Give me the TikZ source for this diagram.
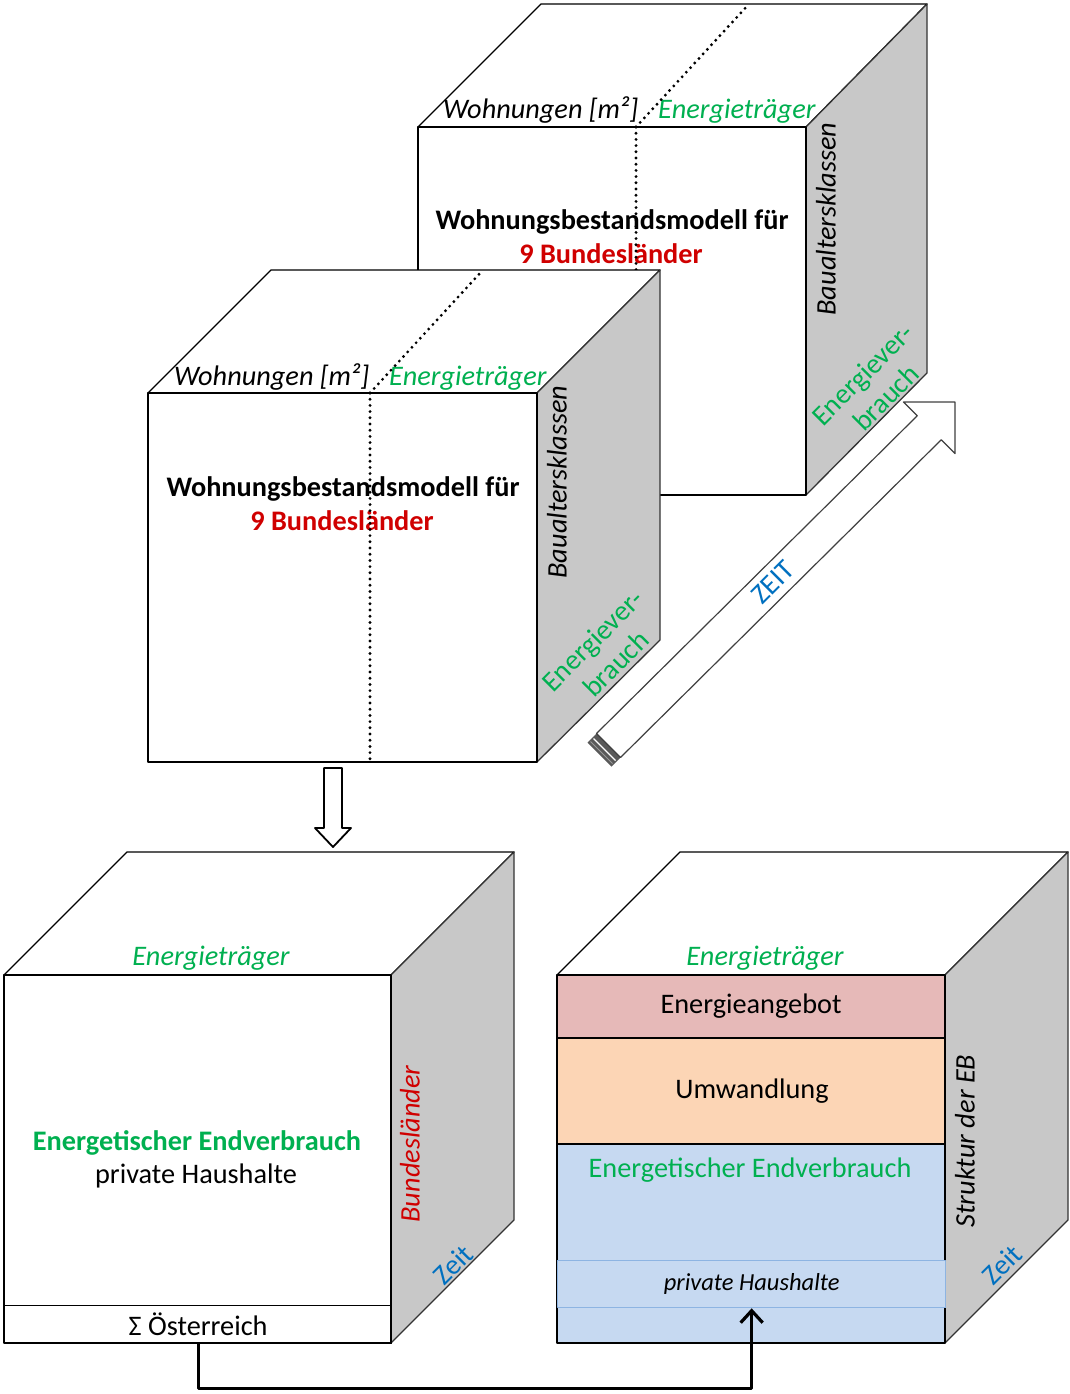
\documentclass[tikz,border=0pt]{standalone}
\usepackage{fontspec}
\setmainfont{Carlito}
\usetikzlibrary{arrows.meta}
\definecolor{egreen}{HTML}{00B050}
\definecolor{ered}{HTML}{D00000}
\definecolor{eblue}{HTML}{0070C0}
\definecolor{sidegray}{HTML}{C8C8C8}
\definecolor{pinkc}{HTML}{E6B9B8}
\definecolor{peachc}{HTML}{FCD5B5}
\definecolor{bluec}{HTML}{C6D9F1}
\definecolor{bandline}{HTML}{8DB4E2}
\newcommand\myfs{\fontsize{28.3}{33}\selectfont}
\begin{document}
\begin{tikzpicture}[x=1pt,y=-1pt,line join=round,
  face/.style={draw=black,line width=1.3pt,fill=white},
  sideface/.style={draw=black!80,line width=1.3pt,fill=sidegray},
  txt/.style={font=\myfs,inner sep=0pt},
  dotline/.style={line width=3.2pt,line cap=round,dash pattern=on 0pt off 6.2pt},
  conn/.style={line width=3.2pt,-{Straight Barb[length=12pt,width=22pt]}},
  hollow/.style={draw=black,line width=1.8pt,fill=white}]
\useasboundingbox (0,0) rectangle (1069,1394);

% ---------- back cube (B) ----------
\draw[face] (418,127) -- (541,4) -- (927,4) -- (806,127) -- cycle;
\draw[sideface] (806,127) -- (927,4) -- (927,373) -- (806,495) -- cycle;
\draw[face] (418,127) rectangle (806,495);
\node[txt,anchor=base west] (wohnB) at (443,119) {\itshape Wohnungen [m²]};
\node[txt,anchor=base west,text=egreen] (etB) at (658,119) {\itshape Energieträger};
\node[txt,anchor=base] (modB) at (612,229) {\bfseries Wohnungsbestandsmodell für};
\node[txt,anchor=base,text=ered] (blB) at (611,263) {\bfseries 9 Bundesländer};
\node[txt,rotate=90] (bakB) at (826,219) {\itshape Baualtersklassen};
\node[txt,rotate=45,align=center,text=egreen] (evB) at (874,386) {Energiever-\\brauch};
\draw[dotline] (636,127) -- (749,4);
\draw[dotline] (636,127) -- (636,495);

% ---------- front cube (A) ----------
\draw[face] (148,393) -- (271,270) -- (660,270) -- (537,393) -- cycle;
\draw[sideface] (537,393) -- (660,270) -- (660,640) -- (537,762) -- cycle;
\draw[face] (148,393) rectangle (537,762);
\node[txt,anchor=base west] (wohnA) at (174,385) {\itshape Wohnungen [m²]};
\node[txt,anchor=base west,text=egreen] (etA) at (389,385) {\itshape Energieträger};
\node[txt,anchor=base] (modA) at (343,496) {\bfseries Wohnungsbestandsmodell für};
\node[txt,anchor=base,text=ered] (blA) at (342,530) {\bfseries 9 Bundesländer};
\node[txt,rotate=90] (bakA) at (557,482) {\itshape Baualtersklassen};
\node[txt,rotate=45,align=center,text=egreen] (evA) at (604,652) {Energiever-\\brauch};
\draw[dotline] (370,393) -- (482,271);
\draw[dotline] (370,393) -- (370,762);

% ---------- ZEIT arrow ----------
\fill[black!65] (596.5,733.5) -- (620.5,757.5) -- (611.5,766.5) -- (587.5,742.5) -- cycle;
\draw[white,line width=1.2pt] (593.5,738.5) -- (615.5,760.5);
\draw[black!40,line width=1pt] (590.5,741.5) -- (612.5,763.5);
\draw[draw=black!75,line width=1.2pt,fill=white]
  (596.5,733.5) -- (917.2,415.8) -- (903.4,402) -- (955,402) -- (955,453.6)
  -- (941.2,439.8) -- (620.5,757.5) -- cycle;
\node[txt,rotate=45,text=eblue] (zeit) at (773,582) {ZEIT};

% ---------- down arrow ----------
\draw[hollow] (324,768) -- (342,768) -- (342,828) -- (351,828) -- (333,847)
  -- (315,828) -- (324,828) -- cycle;

% ---------- bottom-left cube (C) ----------
\draw[face] (4,975) -- (127,852) -- (514,852) -- (391,975) -- cycle;
\draw[sideface] (391,975) -- (514,852) -- (514,1220) -- (391,1343) -- cycle;
\draw[face] (4,975) rectangle (391,1343);
\node[txt,draw=black,line width=1.3pt,minimum width=387,minimum height=38,
  anchor=north west] (sumrow) at (4,1305) {Σ Österreich};
\node[txt,anchor=base,text=egreen] (etC) at (211,965) {\itshape Energieträger};
\node[txt,anchor=base,text=egreen] (endvC) at (197,1150) {\bfseries Energetischer Endverbrauch};
\node[txt,anchor=base] (phC) at (196,1183) {private Haushalte};
\node[txt,rotate=90,text=ered] (blC) at (410,1144) {\itshape Bundesländer};
\node[txt,rotate=45,text=eblue] (zeitC) at (453,1265) {Zeit};

% ---------- bottom-right cube (D) ----------
\draw[face] (557,975) -- (680,852) -- (1068,852) -- (945,975) -- cycle;
\draw[sideface] (945,975) -- (1068,852) -- (1068,1220) -- (945,1343) -- cycle;
\fill[pinkc] (557,975) rectangle (945,1038);
\fill[peachc] (557,1038) rectangle (945,1144);
\fill[bluec] (557,1144) rectangle (945,1343);
\draw[line width=1.3pt] (557,1038) -- (945,1038) (557,1144) -- (945,1144);
\draw[line width=1.3pt] (557,975) rectangle (945,1343);
\node[txt,font=\fontsize{24.5}{29}\selectfont,draw=bandline,line width=1.3pt,fill=bluec,minimum width=388,
  minimum height=47,anchor=north west] (band) at (557,1260) {\itshape private Haushalte};
\node[txt,anchor=base,text=egreen] (etD) at (765,965) {\itshape Energieträger};
\node[txt] (angebot) at (751,1006) {Energieangebot};
\node[txt] (umw) at (752,1091) {Umwandlung};
\node[txt,text=egreen] (endvD) at (750,1170) {Energetischer Endverbrauch};
\node[txt,rotate=90] (strD) at (965,1141) {\itshape Struktur der EB};
\node[txt,rotate=45,text=eblue] (zeitD) at (1002,1265) {Zeit};

% ---------- connector ----------
\draw[conn] (sumrow.south) -- ++(0,44) -| (band.south);
\end{tikzpicture}
\end{document}
